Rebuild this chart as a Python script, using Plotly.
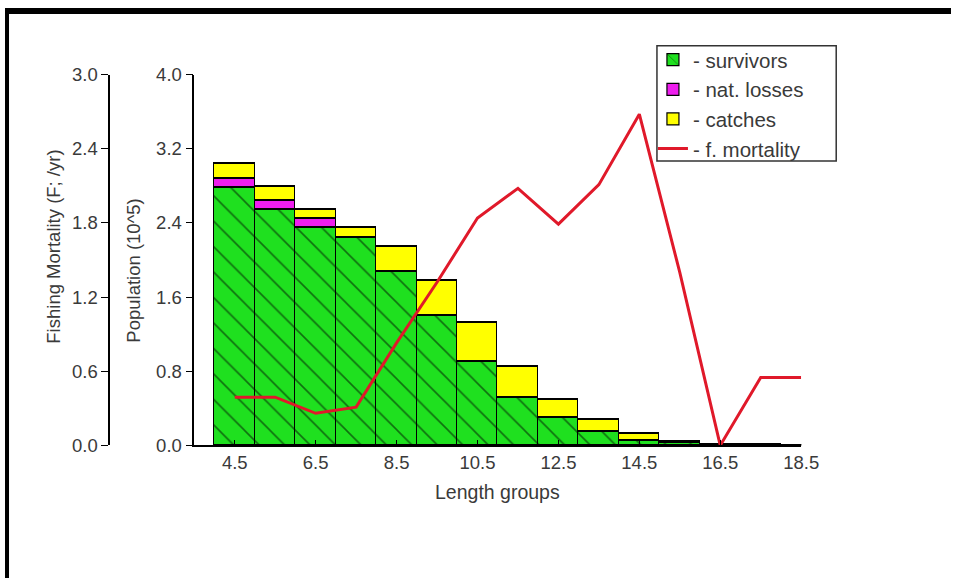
import plotly.graph_objects as go

# ---- data ----
length_groups = [4.5, 5.5, 6.5, 7.5, 8.5, 9.5, 10.5, 11.5, 12.5, 13.5, 14.5, 15.5, 16.5, 17.5, 18.5]
survivors     = [2.78, 2.54, 2.35, 2.24, 1.87, 1.40, 0.90, 0.52, 0.30, 0.15, 0.057, 0.025, 0.008, 0.005, 0.0]
nat_losses    = [0.10, 0.10, 0.10, 0.0, 0.0, 0.0, 0.0, 0.0, 0.0, 0.0, 0.0, 0.0, 0.0, 0.0, 0.0]
catches       = [0.16, 0.15, 0.09, 0.11, 0.27, 0.38, 0.42, 0.33, 0.19, 0.13, 0.068, 0.015, 0.004, 0.0, 0.0]
f_mortality   = [0.39, 0.39, 0.26, 0.31, 0.83, 1.32, 1.84, 2.08, 1.79, 2.11, 2.68, 1.40, 0.0, 0.55, 0.55]

pop_ticks = [0.0, 0.8, 1.6, 2.4, 3.2, 4.0]
f_ticks = [0.0, 0.6, 1.2, 1.8, 2.4, 3.0]
x_ticks = [4.5, 6.5, 8.5, 10.5, 12.5, 14.5, 16.5, 18.5]

W, H = 969, 588
FONT = "Liberation Sans, Arial, sans-serif"
TXT = "#3a3a3a"
FS = 18.5

# layout helpers: map a target pixel position in the 969x588 picture to paper coords
SX, SY, OY = 0.98, 0.97, 9.0


def px(x):
    return (x / SX) / W


def py(y):
    return 1 - ((y - OY) / SY) / H


fig = go.Figure()

fig.add_trace(go.Bar(
    x=length_groups, y=survivors, width=1, name="- survivors", legendgroup="a",
    marker=dict(color="#1fe01f", line=dict(color="black", width=1.2),
                pattern=dict(shape="\\", fgcolor="black", bgcolor="#1fe01f",
                             size=18, solidity=0.09)),
))
fig.add_trace(go.Bar(
    x=length_groups, y=nat_losses, width=1, name="- nat. losses", legendgroup="b",
    marker=dict(color="#ee1eee", line=dict(color="black", width=1.2)),
))
fig.add_trace(go.Bar(
    x=length_groups, y=catches, width=1, name="- catches", legendgroup="c",
    marker=dict(color="#ffff00", line=dict(color="black", width=1.2)),
))
fig.add_trace(go.Scatter(
    x=length_groups, y=f_mortality, yaxis="y2", mode="lines", name="- f. mortality",
    legendgroup="d", line=dict(color="#e0192a", width=3),
))

shapes = [
    # outer frame (top and left edges visible in the reference)
    dict(type="line", xref="paper", yref="paper", x0=px(5), x1=1, y0=1, y1=1,
         line=dict(color="black", width=6)),
    dict(type="line", xref="paper", yref="paper", x0=px(7), x1=px(7), y0=1, y1=0,
         line=dict(color="black", width=4)),
    # legend box
    dict(type="rect", xref="paper", yref="paper", x0=px(656), x1=px(835), y0=py(160), y1=py(44),
         line=dict(color="#333", width=1.5), fillcolor="rgba(0,0,0,0)", layer="above"),
]

fig.update_layout(
    width=W, height=H,
    margin=dict(l=0, r=0, t=0, b=0),
    paper_bgcolor="white", plot_bgcolor="white",
    barmode="stack", bargap=0,
    font=dict(family=FONT, size=FS, color=TXT),
    showlegend=True,
    legend=dict(x=px(652), y=py(38), xanchor="left", yanchor="top",
                borderwidth=0, bgcolor="rgba(0,0,0,0)",
                font=dict(size=20.5, color=TXT), traceorder="normal",
                tracegroupgap=0, itemwidth=30),
    xaxis=dict(domain=[px(194), px(800)], range=[3.5, 18.5],
               tickvals=x_ticks, ticktext=[f"{v:.1f}" for v in x_ticks],
               ticks="inside", ticklen=6, tickcolor="black",
               showline=True, linecolor="black", linewidth=1.5,
               showgrid=False, zeroline=False,
               tickfont=dict(size=FS, color=TXT)),
    yaxis=dict(domain=[py(446), py(73)], range=[0, 4],
               tickvals=pop_ticks, ticktext=[f"{v:.1f}" for v in pop_ticks],
               ticks="outside", ticklen=7, tickcolor="black",
               showline=True, linecolor="black", linewidth=1.5,
               showgrid=False, zeroline=False,
               tickfont=dict(size=FS, color=TXT)),
    yaxis2=dict(overlaying="y", anchor="free", position=px(109), side="left",
                range=[0, 3],
                tickvals=f_ticks, ticktext=[f"{v:.1f}" for v in f_ticks],
                ticks="outside", ticklen=7, tickcolor="black",
                showline=True, linecolor="black", linewidth=1.5,
                showgrid=False, zeroline=False,
                tickfont=dict(size=FS, color=TXT)),
    annotations=[
        dict(text="Fishing Mortality (F; /yr)", x=px(54), y=py(246), xref="paper", yref="paper",
             xanchor="center", yanchor="middle",
             textangle=-90, showarrow=False, font=dict(size=FS, color=TXT)),
        dict(text="Population (10^5)", x=px(133), y=py(270), xref="paper", yref="paper",
             xanchor="center", yanchor="middle",
             textangle=-90, showarrow=False, font=dict(size=FS, color=TXT)),
        dict(text="Length groups", x=px(497), y=py(493), xref="paper", yref="paper",
             xanchor="center", yanchor="middle",
             showarrow=False, font=dict(size=FS + 1, color=TXT)),
    ],
    shapes=shapes,
)

fig.write_html(
    "out.html",
    config={"displayModeBar": False},
    post_script="document.body.style.margin='0';document.body.style.overflow='hidden';",
)
